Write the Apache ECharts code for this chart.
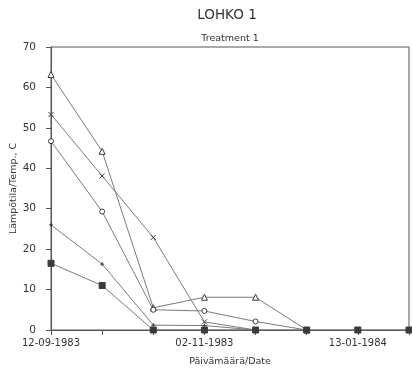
<!DOCTYPE html>
<html>
<head>
<meta charset="utf-8">
<script src="https://cdn.jsdelivr.net/npm/echarts@6/dist/echarts.min.js"></script>
<style>
  html, body { margin: 0; padding: 0; background: #fff; }
  #chart { width: 412px; height: 374px; }
</style>
</head>
<body>
<div id="chart"></div>
<script>
// sampling dates, only three are labelled on the axis
const dateLabels = ['12-09-1983', '', '', '02-11-1983', '', '', '13-01-1984', ''];
const dateIndex = [0, 1, 2, 3, 4, 5, 6, 7];

const triangleTemps = [63.2, 44.2, 5.5, 8.1, 8.1, 0];
const crossTemps = [53.3, 38.1, 22.9, 2.0, 0];
const circleTemps = [46.7, 29.3, 5.0, 4.7, 2.1, 0];
const plusTemps = [26.0, 16.3, 1.2, 1.1, 0];
const squareTemps = [16.5, 11.0, 0, 0, 0, 0, 0, 0];

const yTicks = { min: 0, max: 70, step: 10 };

const lineGrey = '#7a7a7a';
const ink = '#3a3a3a';
const font = 'DejaVu Sans';

const crossPath = 'path://M0,0L10,10M10,0L0,10';
const plusPath = 'path://M5,0L5,10M0,5L10,5';

function series(data, symbol, size, filled) {
  return {
    type: 'line',
    data: data,
    symbol: symbol,
    symbolSize: size,
    showSymbol: true,
    lineStyle: { color: lineGrey, width: 1 },
    itemStyle: { color: filled ? ink : '#fff', borderColor: ink, borderWidth: 1 },
    emphasis: { disabled: true },
    z: filled ? 3 : 2
  };
}

const chart = echarts.init(document.getElementById('chart'), null, { renderer: 'canvas' });
chart.setOption({
  animation: false,
  textStyle: { fontFamily: font },
  grid: { left: 51, right: 3, top: 47, bottom: 44, outerBoundsMode: 'none', containLabel: false, show: true, borderColor: '#555', borderWidth: 1 },
  graphic: [
    { type: 'text', x: 227, y: 15, style: { text: 'LOHKO 1', fill: '#333', font: '13.5px "DejaVu Sans"', align: 'center', verticalAlign: 'middle' } },
    { type: 'text', x: 230, y: 39, style: { text: 'Treatment 1', fill: '#333', font: '9.5px "DejaVu Sans"', align: 'center', verticalAlign: 'middle' } }
  ],
  xAxis: {
    type: 'category',
    data: dateIndex,
    boundaryGap: false,
    name: 'Päivämäärä/Date',
    nameLocation: 'middle',
    nameGap: 27,
    nameMoveOverlap: false,
    nameTextStyle: { color: '#333', fontSize: 9.5, fontFamily: font },
    axisLine: { lineStyle: { color: '#555', width: 1 } },
    axisTick: { show: true, interval: 0, length: 5, lineStyle: { color: '#555' } },
    axisLabel: { interval: 0, color: '#333', fontSize: 10, margin: 8, fontFamily: font, formatter: (v, i) => dateLabels[i] },
    splitLine: { show: false }
  },
  yAxis: {
    type: 'value',
    min: yTicks.min,
    max: yTicks.max,
    interval: yTicks.step,
    name: 'Lämpötila/Temp., C',
    nameLocation: 'middle',
    nameGap: 32,
    nameMoveOverlap: false,
    nameTextStyle: { color: '#333', fontSize: 9.5, fontFamily: font },
    axisLine: { show: true, lineStyle: { color: '#555', width: 1 } },
    axisTick: { show: true, length: 5, lineStyle: { color: '#555' } },
    axisLabel: { color: '#333', fontSize: 10.5, margin: 15, fontFamily: font },
    splitLine: { show: false }
  },
  series: [
    series(triangleTemps, 'triangle', 6, false),
    series(crossTemps, crossPath, 5, false),
    series(circleTemps, 'circle', 5, false),
    series(plusTemps, plusPath, 4, false),
    series(squareTemps, 'rect', 6, true)
  ]
});
</script>
</body>
</html>
